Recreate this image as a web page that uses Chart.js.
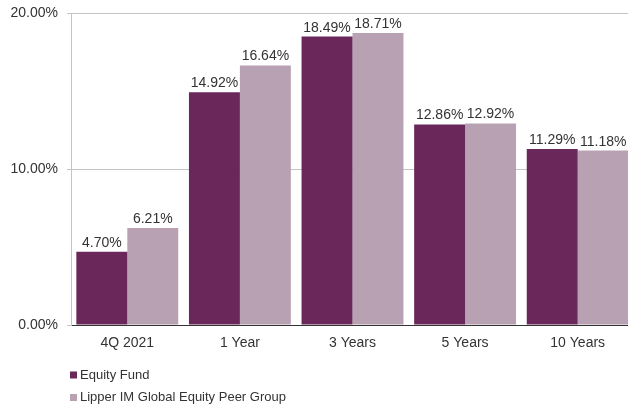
<!DOCTYPE html>
<html>
<head>
<meta charset="utf-8">
<script src="https://cdn.jsdelivr.net/npm/chart.js@4/dist/chart.umd.min.js"></script>
<style>
  html, body { margin: 0; padding: 0; background: #fff; overflow: hidden; }
  #wrap { position: relative; width: 634px; height: 410px; }
</style>
</head>
<body>
<div id="wrap"><canvas id="perfChart"></canvas></div>
<script>
// data
const categories = ["4Q 2021", "1 Year", "3 Years", "5 Years", "10 Years"];
const equityFund = [4.70, 14.92, 18.49, 12.86, 11.29];
const peerGroup = [6.21, 16.64, 18.71, 12.92, 11.18];
const seriesNames = ["Equity Fund", "Lipper IM Global Equity Peer Group"];
const yTicks = [0, 10, 20];

const darkPurple = "#69275a";
const lightPurple = "#b9a1b4";
const textColor = "#333333";
const fontFamily = "'Liberation Sans', Arial, sans-serif";

// labels above each bar
const barValueLabels = {
  id: "barValueLabels",
  afterDatasetsDraw(chart) {
    const ctx = chart.ctx;
    ctx.save();
    ctx.font = "14px " + fontFamily;
    ctx.fillStyle = textColor;
    ctx.textAlign = "center";
    ctx.textBaseline = "alphabetic";
    chart.data.datasets.forEach((ds, i) => {
      const meta = chart.getDatasetMeta(i);
      meta.data.forEach((bar, j) => {
        ctx.fillText(ds.data[j].toFixed(2) + "%", bar.x, bar.y - 5);
      });
    });
    ctx.restore();
  }
};

// stacked legend under the axis, bottom left
const stackedLegend = {
  id: "stackedLegend",
  afterDraw(chart) {
    const ctx = chart.ctx;
    const left = chart.chartArea.left - 1;
    const rows = [375, 397.5];
    ctx.save();
    ctx.font = "13px " + fontFamily;
    ctx.textBaseline = "middle";
    ctx.textAlign = "left";
    chart.data.datasets.forEach((ds, i) => {
      ctx.fillStyle = ds.backgroundColor;
      ctx.fillRect(left, rows[i] - 3.5, 7, 7);
      ctx.fillStyle = textColor;
      ctx.fillText(ds.label, left + 10, rows[i]);
    });
    ctx.restore();
  }
};

const ctx = document.getElementById("perfChart").getContext("2d");
new Chart(ctx, {
  type: "bar",
  data: {
    labels: categories,
    datasets: [
      { label: seriesNames[0], data: equityFund, backgroundColor: darkPurple },
      { label: seriesNames[1], data: peerGroup, backgroundColor: lightPurple }
    ]
  },
  options: {
    responsive: true,
    maintainAspectRatio: false,
    animation: false,
    categoryPercentage: 0.905,
    barPercentage: 1,
    layout: { padding: { top: 13, right: 0, left: 0, bottom: 0 } },
    plugins: {
      legend: { display: false },
      tooltip: { enabled: false }
    },
    scales: {
      x: {
        grid: { display: false, drawTicks: false },
        border: { color: "#333333", width: 1 },
        ticks: { color: textColor, font: { size: 14, family: fontFamily }, padding: 10 },
        afterFit(scale) { scale.height = 85; }
      },
      y: {
        min: 0,
        max: 20,
        afterBuildTicks(scale) { scale.ticks = yTicks.map(v => ({ value: v })); },
        grid: {
          color: c => (c.tick && c.tick.value === 0 ? "rgba(0,0,0,0)" : "#c4c4c4"),
          tickColor: "#c4c4c4",
          tickLength: 4
        },
        border: { color: "#c4c4c4" },
        ticks: {
          color: textColor,
          font: { size: 14, family: fontFamily },
          padding: 9,
          callback: v => v.toFixed(2) + "%"
        },
        afterFit(scale) {
          scale.width = 71;
          scale.paddingTop = 0;
          scale.paddingBottom = 0;
        }
      }
    }
  },
  plugins: [barValueLabels, stackedLegend]
});
</script>
</body>
</html>
